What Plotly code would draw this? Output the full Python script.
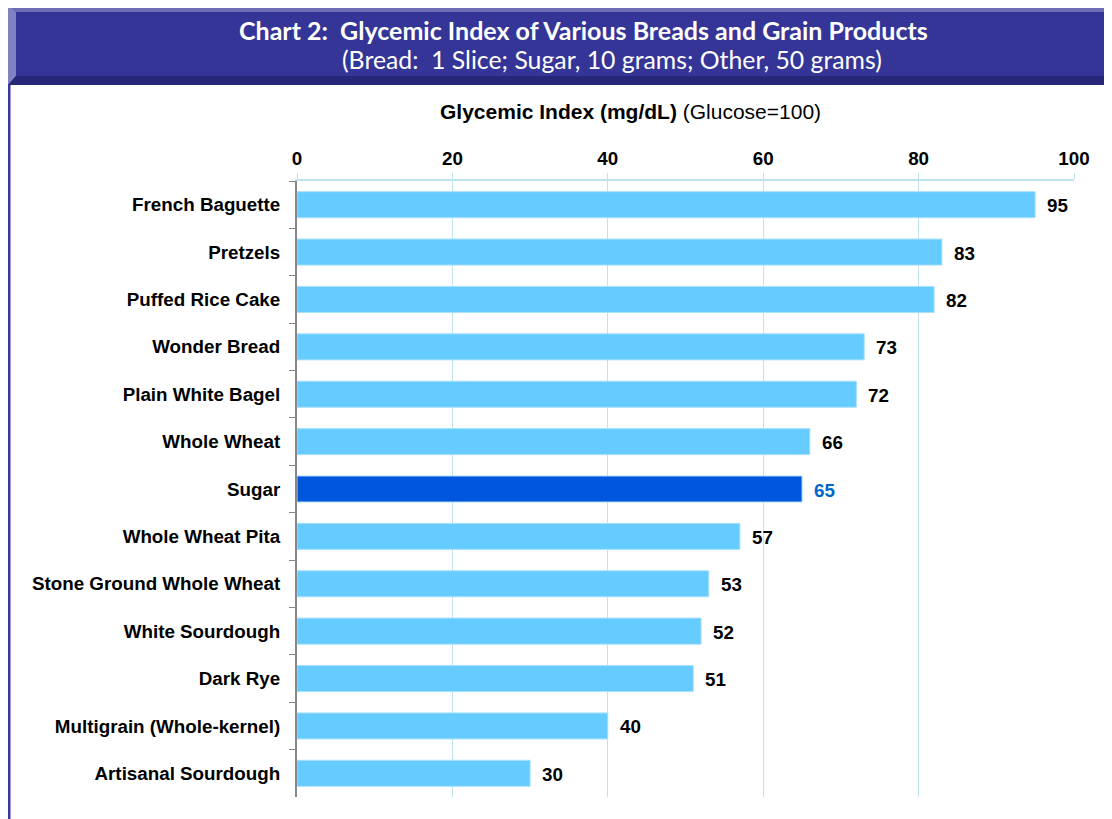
import plotly.graph_objects as go

categories = ["French Baguette", "Pretzels", "Puffed Rice Cake", "Wonder Bread",
              "Plain White Bagel", "Whole Wheat", "Sugar", "Whole Wheat Pita",
              "Stone Ground Whole Wheat", "White Sourdough", "Dark Rye",
              "Multigrain (Whole-kernel)", "Artisanal Sourdough"]
values = [95, 83, 82, 73, 72, 66, 65, 57, 53, 52, 51, 40, 30]
highlight = "Sugar"
tick_vals = [0, 20, 40, 60, 80, 100]

OFF = 8  # page body margin
W, H = 1112 - OFF, 819 - OFF
L = 297 - OFF
T = 181 - OFF
R = W - (1074 - OFF)
B = H - (797 - OFF)
pw, ph = W - L - R, H - T - B

def px(x):
    return (x - OFF - L) / pw

def py(y):
    return (H - B - (y - OFF)) / ph

def path(pts):
    return "M " + " L ".join(f"{px(a):.5f},{py(b):.5f}" for a, b in pts) + " Z"

bar_colors = ["#0055DD" if c == highlight else "#66CCFF" for c in categories]
label_colors = ["#0066CC" if c == highlight else "#000000" for c in categories]
FS = 18.8
ARIAL = "Liberation Sans, Arial"

fig = go.Figure()
fig.add_trace(go.Bar(
    y=categories, x=values, orientation="h",
    marker=dict(color=bar_colors, line=dict(color="#A8E0FF", width=1)),
    hoverinfo="x+y",
))

for c, v, col in zip(categories, values, label_colors):
    fig.add_annotation(x=v, y=c, text=str(v), showarrow=False, xanchor="left",
                       xshift=10, yshift=-1,
                       font=dict(family=ARIAL, size=FS, color=col, weight="bold"))

shapes = []
# left vertical rule
shapes.append(dict(type="line", xref="paper", yref="paper", x0=px(9), x1=px(9), y0=py(18), y1=py(830),
                   line=dict(color="#3838A0", width=3), layer="above"))
# banner
shapes.append(dict(type="rect", xref="paper", yref="paper", x0=px(8), x1=px(1120), y0=py(85), y1=py(4),
                   fillcolor="#353597", line=dict(width=0), layer="above"))
shapes.append(dict(type="path", xref="paper", yref="paper",
                   path=path([(8, 4), (1120, 4), (1120, 12), (16, 12)]),
                   fillcolor="#6E6EB8", line=dict(width=0), layer="above"))
shapes.append(dict(type="path", xref="paper", yref="paper",
                   path=path([(8, 4), (16, 12), (16, 76), (8, 85)]),
                   fillcolor="#8080C2", line=dict(width=0), layer="above"))
shapes.append(dict(type="path", xref="paper", yref="paper",
                   path=path([(16, 76), (1120, 76), (1120, 85), (8, 85)]),
                   fillcolor="#27277A", line=dict(width=0), layer="above"))
fig.update_layout(shapes=shapes)

fig.add_annotation(xref="paper", yref="paper", x=px(583), y=py(30), showarrow=False,
                   xanchor="center", yanchor="middle",
                   text="<b>Chart 2:  Glycemic Index of Various Breads and Grain Products</b>",
                   font=dict(family="Lato, Open Sans", size=25, color="white"))
fig.add_annotation(xref="paper", yref="paper", x=px(612), y=py(59), showarrow=False,
                   xanchor="center", yanchor="middle",
                   text="(Bread:  1 Slice; Sugar, 10 grams; Other, 50 grams)",
                   font=dict(family="Lato, Open Sans", size=24.8, color="white"))
fig.add_annotation(xref="paper", yref="paper", x=px(630), y=py(112), showarrow=False,
                   xanchor="center", yanchor="middle",
                   text="<b>Glycemic Index (mg/dL)</b> (Glucose=100)",
                   font=dict(family=ARIAL, size=21, color="black"))

fig.update_xaxes(side="top", range=[0, 100], tickvals=tick_vals, showgrid=True,
                 gridcolor="#BFE3EA", gridwidth=1, showline=True, linecolor="#BFE3EA", linewidth=2,
                 ticks="outside", ticklen=6, tickcolor="#BFE3EA", zeroline=False,
                 tickfont=dict(family=ARIAL, size=FS, color="black", weight="bold"))
fig.update_yaxes(autorange="reversed", showline=True, linecolor="#888888", linewidth=2,
                 ticks="outside", tickson="boundaries", ticklen=6, tickcolor="#888888",
                 showgrid=False, ticklabelstandoff=11,
                 tickfont=dict(family=ARIAL, size=FS, color="black", weight="bold"))

fig.update_layout(width=W, height=H, margin=dict(l=L, r=R, t=T, b=B, autoexpand=False),
                  plot_bgcolor="white", paper_bgcolor="white", bargap=0.45, showlegend=False)

fig.write_html("out.html")
